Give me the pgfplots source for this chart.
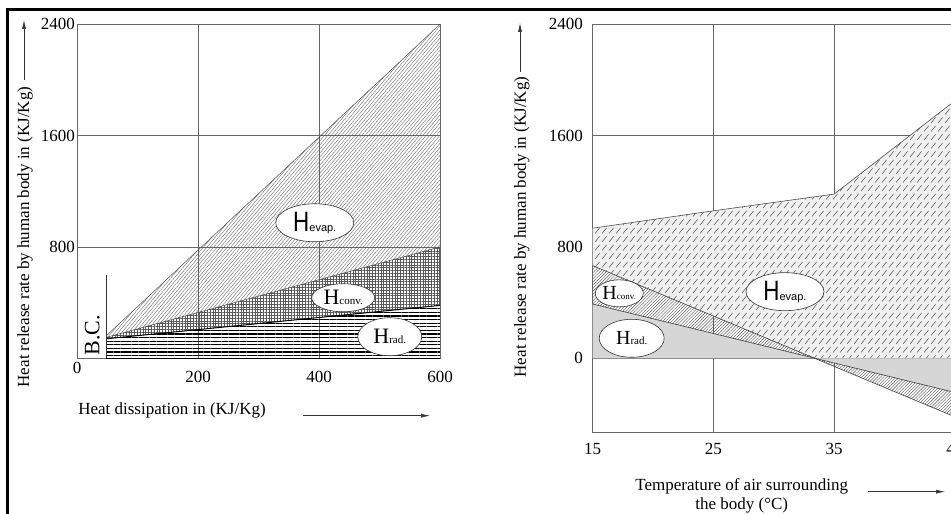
\documentclass[border=0pt]{standalone}
\usepackage{fontspec}
\setmainfont{Liberation Serif}
\newfontfamily\hsans{Liberation Sans}
\usepackage{graphicx}
\usepackage{pgfplots}
\pgfplotsset{compat=1.18}
\usetikzlibrary{patterns.meta,arrows.meta}

% dashed 50 degree hatch, used for H evap. on the right
\pgfdeclarepatternformonly{dashhatch}{\pgfqpoint{-1pt}{-1pt}}{\pgfqpoint{8pt}{9.5pt}}{\pgfqpoint{7pt}{8.5pt}}{
  \pgfsetlinewidth{0.5pt}
  \pgfpathmoveto{\pgfqpoint{0pt}{0pt}}
  \pgfpathlineto{\pgfqpoint{4.6pt}{5.6pt}}
  \pgfusepath{stroke}}

\pgfplotsset{
  panel/.style={
    scale only axis,
    anchor=south west,
    grid=major,
    major grid style={black!60, line width=0.6pt},
    axis line style={black!60, line width=0.6pt},
    major tick length=0pt,
    tick label style={font=\fontsize{17}{17}\selectfont},
    /pgf/number format/assume math mode=true,
    /pgf/number format/1000 sep={},
  },
}

\begin{document}
\begin{tikzpicture}[x=1pt,y=1pt]
\useasboundingbox (0,0) rectangle (951,514);
\clip (0,0) rectangle (951,514);

% ---------- left panel ----------
\begin{axis}[panel,
  at={(77pt,155.7pt)}, width=363pt, height=334pt,
  xmin=0, xmax=600, ymin=0, ymax=2400,
  xtick={200,400,600}, ytick={800,1600,2400},
  xticklabel style={yshift=-9pt},
  yticklabel style={xshift=1.5pt},
]
\addplot[draw=none, pattern={Lines[angle=50,distance=2.6pt,line width=0.35pt]}, pattern color=black!65]
  coordinates {(48,150) (600,800) (600,2400) (48,160)} -- cycle;
\addplot[draw=none, pattern={Hatch[distance=2.8pt,line width=0.35pt]}, pattern color=black!65]
  coordinates {(48,140) (600,380) (600,800) (48,150)} -- cycle;
\addplot[draw=none, pattern={Lines[angle=0,distance=3.6pt,line width=1.3pt]}, pattern color=black]
  coordinates {(48,0) (600,0) (600,380) (48,140)} -- cycle;
\addplot[black!70, line width=0.5pt] coordinates {(48,160) (600,2400)};
\addplot[black!70, line width=0.5pt] coordinates {(48,150) (600,800)};
\addplot[black, line width=1pt] coordinates {(48,140) (600,380)};
\addplot[black, line width=1.4pt] coordinates {(48,0) (600,0)};
\addplot[black!80, line width=0.7pt] coordinates {(48,0) (48,600)};

\node[rotate=90, font=\fontsize{22}{22}\selectfont] at (axis cs:25,167) {B.C.};

\draw[black!80, fill=white, line width=0.6pt] (axis cs:393,974) ellipse [x radius=39pt, y radius=19pt];
\node[inner sep=0pt] at (axis cs:393,974) {\hsans\scalebox{0.8}[1]{\fontsize{28}{28}\selectfont H}\fontsize{11}{11}\selectfont evap.};
\draw[black!80, fill=white, line width=0.6pt] (axis cs:440,435) ellipse [x radius=31.5pt, y radius=14pt];
\node[inner sep=0pt] at (axis cs:440,435) {\fontsize{22}{22}\selectfont H\fontsize{11}{11}\selectfont conv.};
\draw[black!80, fill=white, line width=0.6pt] (axis cs:517,155) ellipse [x radius=32pt, y radius=19pt];
\node[inner sep=0pt] at (axis cs:517,155) {\fontsize{22}{22}\selectfont H\fontsize{11}{11}\selectfont rad.};
\end{axis}

\node[font=\fontsize{17}{17}\selectfont] at (77,146) {0};
\node[rotate=90, font=\fontsize{17}{17}\selectfont] at (25,277) {Heat release rate by human body in (KJ/Kg)};
\draw[black!80, line width=0.6pt, -{Latex[length=9pt,width=4pt]}] (24,434) -- (24,494);
\node[font=\fontsize{17}{17}\selectfont] at (172,104) {Heat dissipation in (KJ/Kg)};
\draw[black!80, line width=0.6pt, -{Latex[length=9pt,width=4pt]}] (303,98.3) -- (430,98.3);

% ---------- right panel ----------
\begin{axis}[panel,
  at={(592.7pt,81.9pt)}, width=362.1pt, height=407.8pt,
  xmin=15, xmax=45, ymin=-530, ymax=2400,
  xtick={15,25,35,45}, ytick={0,800,1600,2400},
  xticklabel style={yshift=-7.5pt},
  yticklabel style={xshift=-6.4pt},
]
\addplot[draw=none, fill=black!6]
  coordinates {(15,666) (33.4,0) (45,0) (45,1850) (35,1180) (25,1060) (15,935)} -- cycle;
\addplot[draw=none, pattern=dashhatch, pattern color=black!70]
  coordinates {(15,666) (33.4,0) (45,0) (45,1850) (35,1180) (25,1060) (15,935)} -- cycle;
\addplot[draw=none, fill=black!16] coordinates {(15,0) (33.4,0) (15,390)} -- cycle;
\addplot[draw=none, fill=black!16] coordinates {(33.4,0) (45,0) (45,-245)} -- cycle;
\addplot[draw=none, pattern={Lines[angle=45,distance=2.2pt,line width=0.4pt]}, pattern color=black!70]
  coordinates {(15,390) (33.4,0) (15,666)} -- cycle;
\addplot[draw=none, pattern={Lines[angle=45,distance=2.2pt,line width=0.4pt]}, pattern color=black!70]
  coordinates {(33.4,0) (45,-245) (45,-420)} -- cycle;
\addplot[black!70, line width=0.6pt] coordinates {(15,935) (25,1060) (35,1180) (45,1850)};
\addplot[black!75, line width=0.6pt] coordinates {(15,666) (45,-420)};
\addplot[black!75, line width=0.6pt] coordinates {(15,390) (45,-245)};

\draw[black!80, fill=white, line width=0.6pt] (axis cs:17.2,467) ellipse [x radius=24pt, y radius=13.5pt];
\node[inner sep=0pt] at (axis cs:17.2,467) {\fontsize{20}{20}\selectfont H\fontsize{9}{9}\selectfont conv.};
\draw[black!80, fill=white, line width=0.6pt] (axis cs:18.23,144) ellipse [x radius=32.5pt, y radius=19pt];
\node[inner sep=0pt] at (axis cs:18.23,144) {\fontsize{20}{20}\selectfont H\fontsize{11}{11}\selectfont rad.};
\draw[black!80, fill=white, line width=0.6pt] (axis cs:30.93,479) ellipse [x radius=39pt, y radius=19pt];
\node[inner sep=0pt] at (axis cs:30.93,479) {\hsans\scalebox{0.8}[1]{\fontsize{28}{28}\selectfont H}\fontsize{11}{11}\selectfont evap.};
\end{axis}

\node[rotate=90, font=\fontsize{17}{17}\selectfont] at (521.7,287) {Heat release rate by human body in (KJ/Kg)};
\draw[black!80, line width=0.6pt, -{Latex[length=9pt,width=4pt]}] (520,442) -- (520,491);
\node[align=center, font=\fontsize{17}{19}\selectfont] at (741.7,18) {Temperature of air surrounding\\the body (°C)};
\draw[black!80, line width=0.6pt, -{Latex[length=9pt,width=4pt]}] (868,22.3) -- (945,22.3);

% outer frame
\draw[line width=2.5pt] (7.5,-20) -- (7.5,504.5) -- (980,504.5);
\end{tikzpicture}
\end{document}
